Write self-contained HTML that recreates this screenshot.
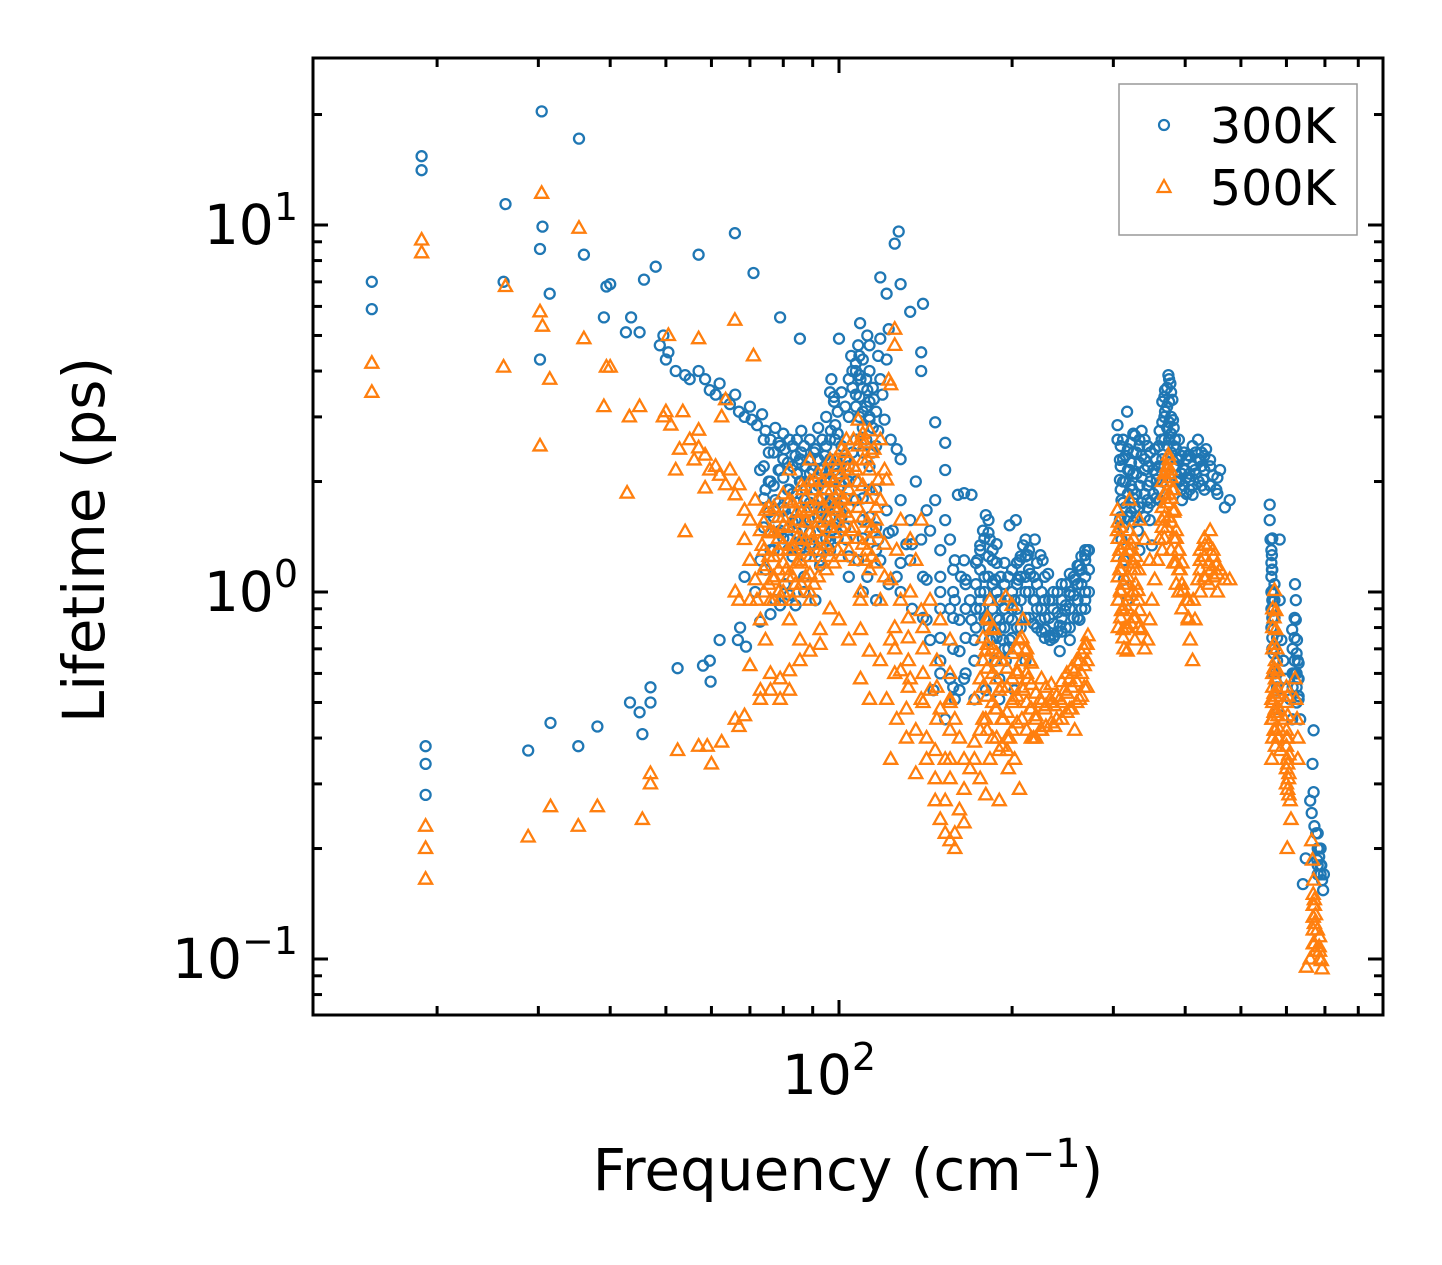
<!DOCTYPE html>
<html><head><meta charset="utf-8"><style>
html,body{margin:0;padding:0;background:#fff;}
svg{display:block;font-family:"DejaVu Sans","Liberation Sans",sans-serif;}
</style></head><body>
<svg id="chart" width="1442" height="1265" viewBox="0 0 1442 1265" xmlns="http://www.w3.org/2000/svg">
<rect x="0" y="0" width="1442" height="1265" fill="#fff"/>
<g id="marks300"></g>
<g id="marks500"></g>
<g id="axes"></g>
<rect x="313" y="58" width="1070" height="957" fill="none" stroke="#000" stroke-width="3"/>
<g>
<rect x="1119" y="84" width="238" height="151" fill="#fff" stroke="#999" stroke-width="1.5"/>
<circle cx="1164" cy="125" r="5" fill="none" stroke="#1f77b4" stroke-width="2.2"/>
<text x="1210" y="143" font-size="49">300K</text>
<path d="M1157.5,192 L1170.5,192 L1164,180 Z" fill="none" stroke="#ff7f0e" stroke-width="2.2"/>
<text x="1210" y="205" font-size="49">500K</text>
</g>
<text x="0" y="0" font-size="58" text-anchor="middle" transform="translate(104,540) rotate(-90)">Lifetime (ps)</text>
<text x="848" y="1190" font-size="58" text-anchor="middle">Frequency (cm<tspan font-size="40" dy="-23">−1</tspan><tspan dy="23">)</tspan></text>
</svg>
<script>
const xTicksMajor = [100];
const xTicksMinor = [20,30,40,50,60,70,80,90,200,300,400,500,600,700,800];
const yTicksMajor = [0.1, 1, 10];
const yTickLabels = ["−1","0","1"];
const yTicksMinor = [0.08,0.09,0.2,0.3,0.4,0.5,0.6,0.7,0.8,0.9,2,3,4,5,6,7,8,9,20];

const s300 = [
[15.4,7.0],[15.4,5.9],[18.8,15.4],[18.8,14.1],[19.1,0.38],[19.1,0.34],[19.1,0.28],[26.3,11.4],[26.1,7.0],[28.8,0.37],
[30.4,20.4],[30.5,9.9],[30.2,8.6],[30.2,4.3],[31.4,6.5],[31.5,0.44],[35.3,17.2],[36,8.3],[35.2,0.38],[38,0.43],
[39,5.6],[39.4,6.8],[40,6.9],[43.3,0.50],[45,0.47],[45.5,0.41],[47,0.50],[47,0.55],[48,7.7],[45.8,7.1],
[42.6,5.1],[43.5,5.6],[45,5.1],[49.5,5.0],[50.5,4.5],[52.4,0.62],[57,8.3],[58,0.63],[59.6,0.65],[59.8,0.57],
[65.9,9.5],[66.7,0.74],[71,7.4],[67.3,0.80],[68.9,0.71],[79,5.6],[85.5,4.9],[100,4.9],[108.8,5.4],[125,8.9],
[127,9.6],[118,7.2],[121,6.5],[128,6.9],[133,5.8],[140,6.1],[139,4.5],[139,4.0],[147,2.9],[153,2.55],
[48.8,4.7],[50,4.3],[52,4.0],[54,3.9],[55,3.8],[57,4.0],[58.5,3.8],[59.6,3.55],[61,3.45],[62,3.7],
[63.5,3.35],[64.6,3.25],[66,3.45],[67,3.1],[68.5,3.0],[70,3.2],[70.5,2.95],[72,2.85],[73.5,3.05],[74.5,2.75],
[76,2.6],[77.5,2.8],[79,2.5],[80.5,2.45],[82,2.6],[84,2.35],[85.5,2.3],[87,2.5],[89,2.3],[91,2.45],
[92.7,2.15],[94.5,2.35],[96.5,2.6],[98.5,2.85],
[72.9,2.15],[74.5,1.9],[76,2.0],[77.5,1.78],[79,2.15],[80.5,1.67],[82,1.9],[84,1.57],[85.5,2.0],[87,1.78],
[89,1.57],[91,1.9],[92.7,1.67],[94.5,2.0],[96.5,1.78],[98.5,2.15],[100,1.9],[103,2.3],[82,1.39],[85.5,1.3],
[89,1.35],[79,1.47],[76,1.3],[73,1.22],[92.7,1.22],[96.5,1.39],[90,2.15],[85,2.25],[98.5,2.6],[99.5,3.1],
[97,3.8],[98,3.4],[96.8,2.75],[68.5,1.1],[71.5,1.0],[74.5,1.15],[77.5,0.95],[80.5,1.05],[84,0.92],[87,1.0],[91,0.95],
[62,0.74],[72.9,0.83],[76,0.87],[79,0.92],[82,0.98],[87,1.1],[92.7,1.18],
[105,4.4],[107,4.0],[108,4.7],[109,3.8],[110,4.3],[112,3.55],[113,4.7],[113,4.0],[115,3.35],[117,4.4],
[118,3.8],[118,4.9],[119,3.45],[107,3.45],[110,3.1],[113,2.95],[117,2.75],[120,2.95],[121,4.3],[123,2.6],
[126,2.45],[128,2.3],[122,5.2],[112,5.0],
[104,2.0],[107,1.78],[110,1.57],[113,1.9],[117,1.39],[121,1.67],[124,1.47],[128,1.78],[131,1.35],[133,1.57],
[136,2.0],[139,1.39],[142,1.67],[144,1.47],[147,1.78],[150,1.3],[153,1.57],[156,1.39],[159,1.22],[103,1.39],
[108,1.22],[112,1.1],[118,1.22],[126,1.1],[133,1.22],[142,1.08],[150,1.0],[156,0.9],[162,0.84],[153,2.15],
[161,1.84],[165,1.86],[170,1.84],
[144,0.74],[150,0.65],[156,0.58],[159,0.51],[153,0.45],[146,0.54],[162,0.69],[142,0.84],
[165,1.22],[166,1.08],[169,0.95],[170,0.84],[172,0.74],[174,1.22],[176,1.34],[178,1.47],[180,1.62],[182,1.57],
[183,1.39],[185,1.22],[187,1.08],[189,0.95],[190,0.84],[193,0.74],[176,0.95],[180,0.84],[183,0.74],[187,0.65],
[172,0.65],[165,0.58],[180,0.54],[190,0.58],[195,0.65],[198,0.74],[200,0.84],[202,0.95],[205,1.08],[206,1.22],
[209,1.34],[211,1.39],[213,1.26],[215,1.12],[219,0.95],[224,0.84],[228,0.79],[233,0.74],[237,0.76],[242,0.81],
[247,0.89],[252,0.98],[257,1.08],[262,1.18],[268,1.26],[271,1.3],[226,1.22],[231,1.12],[235,0.95],[198,1.52],
[203,1.57],[219,1.39],[224,1.26],[242,0.69],[252,0.74],[262,0.84],[268,0.95],[211,0.65],[202,0.54],[190,0.51],
[172,0.51],[162,0.54],[159,0.95],[163,1.1],
[305,2.85],[305,2.6],[308,2.29],[308,2.02],[310,1.78],[308,1.57],[310,1.39],[313,1.22],[313,1.08],[317,0.95],
[320,2.15],[324,1.9],[327,1.7],[331,1.47],[333,1.3],[333,2.6],[336,2.75],[340,2.15],[344,1.78],[347,1.57],
[350,1.34],[354,2.45],[357,2.02],[361,1.78],[364,2.6],[369,3.1],[369,3.55],[374,3.9],[377,3.7],[380,3.34],
[381,2.94],[384,2.6],[389,2.29],[392,2.02],[395,1.78],[400,2.15],[405,2.36],[408,2.02],[412,1.84],[416,2.15],
[421,2.6],[425,2.29],[430,2.02],[435,2.45],[442,2.29],[447,2.08],[453,1.9],[460,2.15],[469,1.7],[478,1.78],
[361,2.75],[327,2.67],[317,3.1],
[561,1.73],[561,1.57],[563,1.39],[566,1.26],[566,1.15],[568,1.01],[568,0.89],[570,0.79],[572,0.7],[575,0.61],
[577,0.54],[579,0.48],[584,1.39],[584,0.95],[588,0.74],[593,0.65],[597,0.58],[609,0.51],[614,0.45],[621,1.05],
[623,0.95],[623,0.84],[626,0.74],[628,0.65],[628,0.58],[630,0.51],[634,0.45],[614,0.79],[669,0.42],[666,0.34],
[669,0.285],[660,0.27],[664,0.25],[671,0.23],[676,0.22],[682,0.2],[684,0.19],[690,0.18],[692,0.164],[695,0.154],
[648,0.188],[641,0.16],[679,0.186],[697,0.17]
];

// dense columns for 300K: [frequency, [lifetimes...]]
const cols300 = [
[74,[1.5,1.8,2.2,2.6]],[77,[1.3,1.6,1.95,2.4]],[80,[1.4,1.7,2.05,2.3,2.7]],[83,[1.25,1.55,1.85,2.2,2.5]],
[86,[1.35,1.65,2.0,2.4,2.75]],[89,[1.45,1.75,2.1,2.6]],[92,[1.3,1.6,1.95,2.3,2.8]],[95,[1.4,1.7,2.05,2.5,3.0]],
[98,[1.5,1.8,2.2,3.3]],[101,[1.6,1.95,2.5,3.5]],[104,[1.7,2.2,3.0,3.8,1.1,1.25]],[107,[2.0,2.6,3.2,4.2]],
[110,[1.8,2.4,2.8,3.6,1.0,1.4]],[113,[1.6,2.2,3.0,3.3]],[116,[1.5,1.9,2.5,3.1,0.95,1.3]],[122,[1.05,1.45]],
[128,[1.2,1.0]],[134,[0.9,1.35]],[140,[1.1,0.85]],
[150,[0.6,0.75,0.9,1.1]],[158,[0.55,0.7,0.85,1.0,1.15]],[166,[0.6,0.75,0.9,1.05]],
[176,[1.0,1.15,1.3,0.9]],[182,[0.8,0.95,1.1,1.25,1.45]],[188,[0.75,0.85,1.0,1.2,1.35]],[194,[0.7,0.8,0.9,1.05,1.2]],
[200,[0.75,0.9,1.0,1.15]],[207,[0.8,0.95,1.1,1.25]],[214,[0.85,1.0,1.15,1.3]],[221,[0.8,0.9,1.05,1.2]],
[228,[0.75,0.85,0.95,1.1]],[236,[0.75,0.82,0.9,1.0]],[244,[0.78,0.85,0.95,1.05]],[252,[0.8,0.9,1.0,1.12]],
[260,[0.85,0.95,1.05,1.18]],[268,[0.9,1.0,1.1,1.22,1.3]],
[312,[1.5,1.75,2.0,2.3,2.6]],[318,[1.6,1.85,2.15,2.45]],[325,[1.55,1.8,2.1,2.4,2.7]],[333,[1.7,1.95,2.25,2.5]],
[340,[1.6,1.85,2.3,2.6]],[348,[1.75,2.0,2.4]],[356,[1.8,2.1,2.3]],[365,[2.0,2.3,2.9,3.3]],[372,[2.5,2.8,3.2,3.6]],
[378,[2.4,2.7,3.0,3.5]],[386,[2.0,2.2,2.45]],[394,[1.9,2.1,2.35]],[402,[1.85,2.05,2.3]],[412,[1.95,2.2,2.5]],
[422,[2.0,2.3]],[432,[1.9,2.15,2.35]],[442,[1.95,2.2]],[455,[1.85,2.05]],
[565,[0.8,0.9,1.0,1.1,1.2,1.3]],[572,[0.6,0.7,0.85,0.95,1.05]],[578,[0.55,0.65,0.75]],[615,[0.55,0.6,0.7]],
[625,[0.5,0.55,0.6,0.68]],[680,[0.17,0.18,0.2,0.22]],[688,[0.17,0.18,0.2]],
[75.5,[1.65,2.0,2.4]],[78.5,[1.45,1.75,2.15,2.55]],[81.5,[1.3,1.6,1.9,2.25]],[84.5,[1.45,1.75,2.1,2.6]],
[87.5,[1.25,1.55,1.9,2.2]],[90.5,[1.35,1.7,2.0,2.4]],[93.5,[1.5,1.8,2.15,2.6]],[96.5,[1.3,1.6,2.0,2.3,3.5]],
[99.5,[1.4,1.7,2.1,2.7]],[102.5,[1.5,1.8,2.3,3.2]],[105.5,[3.6,4.0,2.4]],[108.5,[3.0,3.4,3.9,4.4]],
[111.5,[2.6,3.2,3.8]],[114.5,[2.4,2.8,3.6]],
[173,[0.8,0.9,1.05,1.2]],[179,[0.85,1.0,1.1,1.4]],[185,[0.75,0.9,1.05,1.3]],[191,[0.8,0.95,1.1]],
[197,[0.7,0.85,0.95,1.1]],[204,[0.8,0.9,1.05,1.2]],[211,[0.85,1.0,1.1,1.25]],[218,[0.82,0.95,1.1]],
[225,[0.78,0.9,1.0]],[232,[0.76,0.85,0.95]],[240,[0.78,0.88,1.0]],[248,[0.8,0.92,1.05]],[256,[0.85,0.98,1.1]],
[264,[0.9,1.05,1.15,1.25]],[272,[1.0,1.15,1.3]],
[309,[1.6,1.9,2.2,2.5]],[315,[1.7,2.0,2.35]],[322,[1.65,1.95,2.25,2.55]],[329,[1.6,1.85,2.1,2.4]],
[336,[1.75,2.05,2.35]],[344,[1.7,1.95,2.2,2.5]],[352,[1.85,2.15]],[360,[1.9,2.2,2.5]],[368,[2.2,2.6,3.0,3.4]],
[375,[2.6,2.9,3.3,3.8]],[382,[2.2,2.5,2.8]],[390,[2.0,2.3,2.6]],[398,[1.95,2.15,2.4]],[407,[1.9,2.1,2.35]],
[417,[2.1,2.4]],[427,[1.95,2.2,2.4]],
[567,[0.7,0.75,0.85,0.95,1.15,1.4]],[570,[0.6,0.68,0.9,1.0]],[620,[0.6,0.65,0.75,0.85]],[630,[0.52,0.58,0.64]]
];

const s500 = [
[15.4,4.2],[15.4,3.5],[18.8,9.1],[18.8,8.4],[19.1,0.23],[19.1,0.2],[19.1,0.165],[26.1,4.1],[26.3,6.8],[28.8,0.215],
[30.4,12.2],[30.5,5.3],[30.2,2.5],[30.2,5.8],[31.4,3.8],[31.5,0.26],[35.3,9.8],[36,4.9],[35.2,0.23],[38,0.26],
[39,3.2],[39.4,4.1],[40,4.1],[43.2,3.0],[42.8,1.86],[45,3.2],[45.5,0.24],[47,0.30],[47,0.32],[49.5,3.0],
[50.5,5.0],[57,4.9],[65.9,5.5],[71,4.4],
[50,3.1],[51,2.85],[52.8,2.45],[55,2.6],[56,2.29],[57,2.47],[58.5,2.36],[59.6,2.15],[61,2.2],[62,2.08],
[63.5,1.96],[64.6,2.15],[66,1.84],[67,1.96],[68.5,1.67],[70,1.57],[71.5,1.78],[73,1.47],[53.5,3.1],[57,2.76],
[54,1.46],[52,2.15],[58.5,1.92],[62.5,3.0],[63.5,3.34],
[68.5,1.39],[70,1.22],[71.5,1.08],[72,0.95],[73.5,1.34],[74.5,1.18],[76,1.47],[77,1.08],[77.5,1.67],[78.5,1.3],
[79,0.95],[80,1.52],[81,1.15],[82,1.78],[83,1.34],[84,1.05],[85,1.57],[85.5,1.22],[86.5,1.9],[87.5,1.39],
[88,1.67],[89,1.12],[90.5,2.02],[91.5,1.47],[92.7,1.78],[94,1.3],[95,2.15],[96,1.57],[97,1.9],[98.5,2.29],
[99.5,1.67],[101,2.45],[102,1.78],[103.5,2.15],[105,1.47],[107,1.22],[109,1.0],[111,1.22],[113,1.39],[116,1.57],
[118,1.78],[121,2.02],[70,0.95],[73,0.84],[76,0.95],[82,0.84],[89,0.95],[96.5,0.9],[85.5,0.74],[92.7,0.79],
[67,0.95],[66,1.0],[74.5,1.67],[82,2.15],[89,2.29],[103,2.6],[96.5,2.29],
[108,2.94],[109,2.6],[110,2.29],[111,2.55],[113,2.15],[113,2.75],[115,2.45],[117,2.02],[118,2.6],[120,2.15],
[107,2.15],[122,3.78],[123,3.67],[125,5.2],[125,4.7],[118,1.78],
[52.4,0.37],[57,0.38],[59,0.38],[60,0.34],[62.5,0.39],[66,0.45],[68.5,0.46],[67,0.43],[73,0.51],[76,0.54],
[79,0.58],[82,0.61],[85.5,0.65],[89,0.69],[92.7,0.72],[76,0.6],[82,0.54],[79,0.51],[73,0.54],[70,0.63],[74.5,0.74],
[100,0.84],[104,0.74],[109,0.79],[113,0.69],[118,0.65],[123,0.74],[128,0.61],[133,0.58],[139,0.51],[144,0.54],
[150,0.48],[156,0.51],[121,0.51],[126,0.45],[131,0.48],[136,0.42],[142,0.4],[147,0.37],[153,0.35],[118,0.95],
[123,1.08],[128,0.95],[133,1.0],[139,0.89],[144,0.95],[150,0.84],[156,0.74],[109,0.95],[113,1.15],[126,1.3],
[133,1.39],[139,1.57],[128,1.57],[136,1.22],[109,0.58],[113,0.51],[123,0.35],[131,0.4],[136,0.32],[142,0.35],[147,0.31],
[147,0.27],[150,0.24],[153,0.22],[156,0.21],[159,0.22],[162,0.255],[165,0.29],[169,0.33],[172,0.35],[176,0.31],
[180,0.28],[165,0.35],[162,0.4],[159,0.45],[156,0.31],[153,0.27],[159,0.2],[165,0.235],[172,0.39],[180,0.45],
[172,0.51],[176,0.58],[180,0.69],[182,0.84],[183,0.95],[186,0.79],[188,0.65],[190,0.54],[193,0.45],[196,0.37],
[197,0.33],[198,0.4],[201,0.51],[204,0.61],[206,0.74],[209,0.84],[211,0.69],[213,0.58],[215,0.48],[218,0.4],
[220,0.45],[224,0.51],[228,0.48],[233,0.51],[237,0.49],[242,0.51],[247,0.54],[252,0.58],[257,0.61],[262,0.65],
[268,0.72],[271,0.76],[187,0.48],[190,0.37],[202,0.35],[206,0.29],[183,0.35],[176,0.42],[224,0.42],[237,0.43],
[252,0.48],[262,0.51],[257,0.42],[195,0.97],[200,0.92],[209,0.54],[215,0.65],[190,0.27],
[305,1.67],[305,1.47],[308,1.3],[308,1.15],[309,1.01],[310,0.89],[312,0.79],[313,0.7],[320,1.47],[322,1.3],
[327,1.15],[331,1.01],[333,0.89],[336,0.79],[340,0.7],[344,0.74],[347,0.84],[350,0.95],[354,1.08],[358,1.22],
[361,1.39],[364,1.57],[369,1.84],[372,2.15],[374,2.36],[377,2.15],[380,1.9],[383,1.67],[386,1.47],[389,1.3],
[392,1.15],[397,1.01],[402,0.95],[405,0.84],[408,0.74],[412,0.65],[416,0.84],[421,1.08],[425,1.22],[433,1.34],
[442,1.47],[447,1.3],[453,1.18],[460,1.15],[469,1.08],[478,1.08],[320,1.78],[333,1.57],[340,1.39],[347,1.22],
[317,0.69],[327,0.74],[413,0.95],[433,1.08],[444,1.15],
[572,1.01],[575,0.89],[575,0.79],[577,0.7],[579,0.61],[579,0.54],[582,0.48],[584,0.42],[586,0.37],[566,0.51],
[566,0.45],[566,0.35],[595,0.45],[600,0.4],[602,0.35],[605,0.31],[609,0.27],[611,0.24],[602,0.2],[621,0.58],
[623,0.51],[626,0.45],[628,0.4],[628,0.35],[664,0.21],[666,0.186],[669,0.164],[671,0.145],[674,0.132],[679,0.12],
[684,0.108],[690,0.099],[692,0.094],[660,0.1],[650,0.095],[674,0.105]
];

// dense columns for 500K
const cols500 = [
[74,[1.0,1.15,1.3,1.55]],[77,[0.95,1.1,1.25,1.45,1.7]],[80,[1.0,1.2,1.35,1.6,1.85]],[83,[0.95,1.1,1.3,1.5,1.75]],
[86,[1.05,1.2,1.4,1.65,1.95]],[89,[1.0,1.25,1.45,1.7,2.0]],[92,[1.1,1.3,1.55,1.8,2.1]],[95,[1.15,1.35,1.6,1.9]],
[98,[1.2,1.45,1.7,2.0]],[101,[1.25,1.5,1.8,2.1]],[104,[1.3,1.6,1.9,2.3]],[108,[1.4,1.7,2.0,2.5]],
[112,[1.3,1.55,1.8,2.3]],[116,[1.2,1.45,1.7]],[120,[1.1,1.35]],
[125,[0.6,0.7,0.8]],[132,[0.55,0.65,0.75,0.85]],[140,[0.5,0.6,0.7,0.8]],[148,[0.45,0.55,0.65]],[156,[0.35,0.42,0.5,0.6]],
[178,[0.45,0.55,0.65,0.75]],[185,[0.4,0.5,0.6,0.7,0.8]],[192,[0.38,0.45,0.55,0.65]],[200,[0.42,0.5,0.58,0.68]],
[208,[0.45,0.55,0.65,0.75]],[216,[0.4,0.48,0.56,0.64]],[225,[0.42,0.5,0.58]],[234,[0.44,0.5,0.56]],
[244,[0.45,0.5,0.57]],[254,[0.48,0.55,0.62]],[264,[0.52,0.6,0.68]],[270,[0.55,0.65,0.72]],
[306,[0.8,0.95,1.1,1.25,1.4,1.55]],[312,[0.75,0.9,1.05,1.2,1.35]],[318,[0.8,0.95,1.1,1.3]],[325,[0.85,1.0,1.2,1.4]],
[332,[0.8,0.95,1.15]],[365,[1.3,1.5,1.7,2.0]],[372,[1.5,1.75,2.0,2.2]],[378,[1.3,1.55,1.8,2.05]],
[386,[1.05,1.2,1.4]],[395,[0.9,1.05,1.2]],[405,[0.85,0.95]],[425,[1.0,1.15,1.3]],[440,[1.05,1.2,1.35]],[455,[1.0,1.12]],
[568,[0.4,0.45,0.5,0.55,0.6,0.7,0.8,0.9]],[574,[0.38,0.42,0.48,0.52,0.58,0.65]],[580,[0.4,0.46]],
[600,[0.3,0.33,0.38,0.42,0.5,0.55]],[606,[0.28,0.32,0.36]],[668,[0.11,0.12,0.13,0.14,0.15]],[685,[0.1,0.105,0.115]],
[75.5,[1.05,1.25,1.45,1.7]],[78.5,[1.0,1.15,1.4,1.6]],[81.5,[1.1,1.3,1.5,1.75]],[84.5,[1.0,1.2,1.4,1.65]],
[87.5,[1.1,1.3,1.55,1.8]],[90.5,[1.05,1.35,1.6,1.9]],[93.5,[1.2,1.4,1.7,2.0]],[96.5,[1.25,1.5,1.75,2.05]],
[99.5,[1.3,1.55,1.85,2.2]],[102.5,[1.4,1.65,2.0,2.4]],[106,[1.5,1.8,2.2,2.6]],[110,[1.35,1.6,1.95,2.7]],
[114,[1.25,1.5,1.9,2.4]],
[181,[0.42,0.52,0.62,0.72,0.85]],[188,[0.4,0.48,0.58,0.68]],[196,[0.4,0.47,0.55,0.62]],[204,[0.44,0.52,0.6,0.7]],
[212,[0.42,0.5,0.6,0.7]],[220,[0.4,0.46,0.53]],[229,[0.43,0.49,0.55]],[239,[0.45,0.52]],[249,[0.47,0.53,0.6]],
[259,[0.5,0.57,0.65]],[267,[0.55,0.63,0.7]],
[309,[0.85,1.0,1.15,1.3,1.5]],[315,[0.8,0.92,1.08,1.25]],[322,[0.82,0.98,1.15,1.35]],[328,[0.85,1.05,1.25]],
[368,[1.4,1.6,1.85,2.1]],[375,[1.6,1.85,2.1,2.3]],[382,[1.2,1.4,1.65,1.9]],[390,[1.0,1.15,1.3]],
[432,[1.1,1.25,1.4]],[448,[1.1,1.25]],
[571,[0.42,0.47,0.53,0.62,0.72,0.85]],[603,[0.29,0.34,0.4,0.46,0.52]],[671,[0.11,0.125,0.14]]
];

const NS = "http://www.w3.org/2000/svg";
const X0 = 839, XD = 575, Y1 = 592, YD = 367;
function xScale(f){ return X0 + XD*(Math.log10(f) - 2); }
function yScale(v){ return Y1 - YD*Math.log10(v); }
function expand(pairs, cols){
  const out = pairs.slice();
  cols.forEach(function(c){ c[1].forEach(function(v){ out.push([c[0], v]); }); });
  return out;
}

const g300 = document.getElementById('marks300');
expand(s300, cols300).forEach(function(p){
  const c = document.createElementNS(NS,'circle');
  c.setAttribute('cx', xScale(p[0]).toFixed(1));
  c.setAttribute('cy', yScale(p[1]).toFixed(1));
  c.setAttribute('r', 5);
  c.setAttribute('fill','none');
  c.setAttribute('stroke','#1f77b4');
  c.setAttribute('stroke-width','2.3');
  
  
  g300.appendChild(c);
});
const g500 = document.getElementById('marks500');
expand(s500, cols500).forEach(function(p){
  const x = xScale(p[0]), y = yScale(p[1]);
  const t = document.createElementNS(NS,'path');
  t.setAttribute('d','M'+(x-6.5)+','+(y+4.5)+' L'+(x+6.5)+','+(y+4.5)+' L'+x+','+(y-7)+' Z');
  t.setAttribute('fill','none');
  t.setAttribute('stroke','#ff7f0e');
  t.setAttribute('stroke-width','2.3');
  
  
  g500.appendChild(t);
});

const ax = document.getElementById('axes');
function line(x1,y1,x2,y2,name){
  const l = document.createElementNS(NS,'line');
  l.setAttribute('x1',x1); l.setAttribute('y1',y1); l.setAttribute('x2',x2); l.setAttribute('y2',y2);
  l.setAttribute('stroke','#000'); l.setAttribute('stroke-width','3');
  
  
  ax.appendChild(l);
}
xTicksMajor.forEach(function(v){ const x = xScale(v);
  line(x,1015,x,1000,'x-major-tick'); line(x,58,x,73,'x-major-tick-top');
  const t = document.createElementNS(NS,'text');
  t.setAttribute('x', x-10); t.setAttribute('y', 1094); t.setAttribute('font-size','55'); t.setAttribute('text-anchor','middle');
  t.innerHTML = '10<tspan font-size="38" dy="-24">2</tspan>';
  
  
  ax.appendChild(t);
});
xTicksMinor.forEach(function(v){ const x = xScale(v);
  line(x,1015,x,1006,'x-minor-tick'); line(x,58,x,67,'x-minor-tick-top'); });
yTicksMajor.forEach(function(v,i){ const y = yScale(v);
  line(313,y,328,y,'y-major-tick'); line(1383,y,1368,y,'y-major-tick-right');
  const t = document.createElementNS(NS,'text');
  t.setAttribute('x', 298); t.setAttribute('y', y+19); t.setAttribute('font-size','55'); t.setAttribute('text-anchor','end');
  t.innerHTML = '10<tspan font-size="38" dy="-24">' + yTickLabels[i] + '</tspan>';
  
  
  ax.appendChild(t);
});
yTicksMinor.forEach(function(v){ const y = yScale(v);
  line(313,y,322,y,'y-minor-tick'); line(1383,y,1374,y,'y-minor-tick-right'); });
</script>
</body></html>
